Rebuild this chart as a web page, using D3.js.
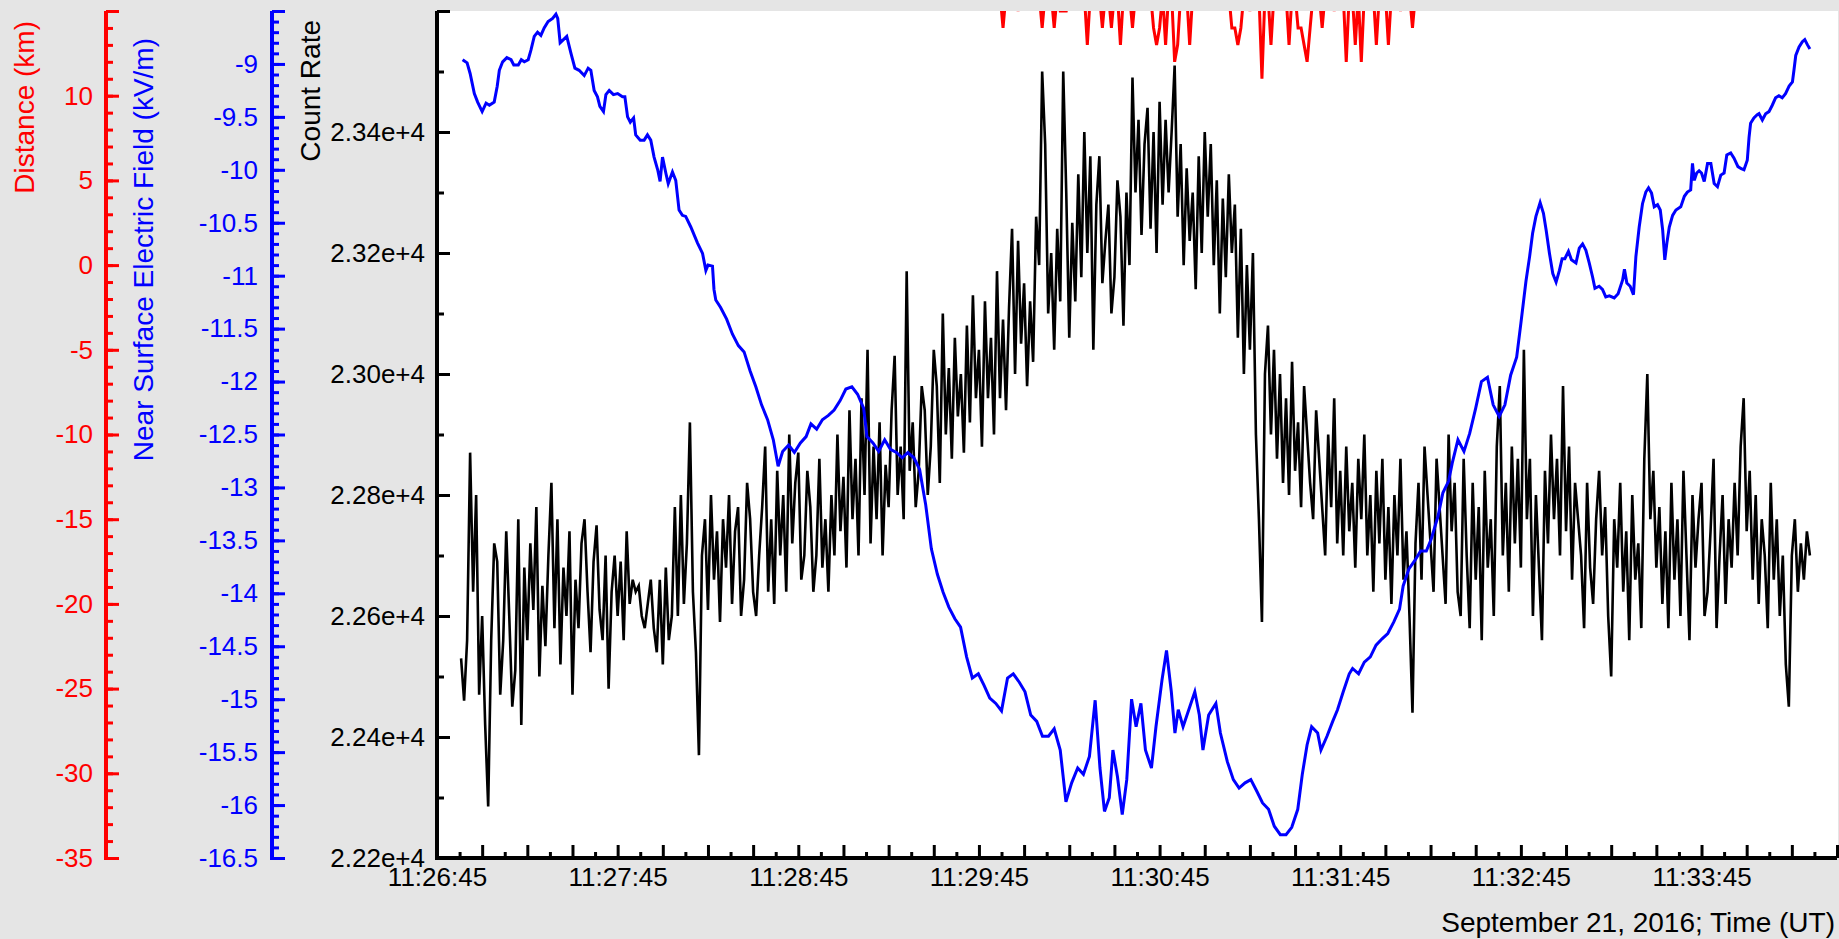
<!DOCTYPE html>
<html>
<head>
<meta charset="utf-8">
<script src="https://cdn.jsdelivr.net/npm/d3@7"></script>
<style>
  html, body { margin: 0; padding: 0; background: #e5e5e5; }
  svg { display: block; font-family: "Liberation Sans", Arial, sans-serif; }
</style>
</head>
<body>
<svg id="chart" width="1839" height="939"></svg>
<script>
// all times are seconds after 11:26:45 UT, September 21, 2016
const startTime = Date.UTC(2016, 8, 21, 11, 26, 45);
const timeSpan = 465;

// count rate, one value per second starting at 11:26:53
const countStartSecond = 8;
const countRate = [
    22530, 22460, 22560, 22870, 22640, 22800, 22470, 22600, 22420, 22285,
    22560, 22720, 22690, 22470, 22560, 22740, 22600, 22450, 22510, 22760,
    22420, 22680, 22560, 22720, 22610, 22780, 22500, 22650, 22550, 22700,
    22820, 22580, 22760, 22520, 22680, 22600, 22740, 22470, 22660, 22580,
    22720, 22760, 22640, 22540, 22690, 22750, 22610, 22560, 22700, 22480,
    22640, 22700, 22600, 22690, 22560, 22740, 22620, 22660, 22640, 22650,
    22600, 22580, 22620, 22660, 22580, 22540, 22660, 22520, 22680, 22560,
    22600, 22780, 22600, 22800, 22620, 22720, 22920, 22640, 22540, 22370,
    22700, 22760, 22610, 22800, 22660, 22740, 22590, 22760, 22680, 22800,
    22620, 22740, 22780, 22600, 22660, 22820, 22760, 22640, 22600, 22700,
    22780, 22880, 22640, 22760, 22620, 22840, 22700, 22800, 22640, 22900,
    22720, 22820, 22870, 22660, 22700, 22840, 22780, 22640, 22700, 22860,
    22680, 22760, 22640, 22800, 22700, 22900, 22740, 22830, 22680, 22940,
    22760, 22860, 22700, 22960, 22800, 23040, 22720, 22880, 22760, 22920,
    22700, 22850, 22780, 22940, 23030, 22800, 22880, 22760, 23170, 22840,
    22920, 22780, 22840, 22980, 22940, 22800, 22880, 23040, 22980, 22820,
    23100, 22900, 23010, 22860, 23060, 22930, 23000, 22870, 23080, 22920,
    23130, 22960, 23040, 22880, 23120, 22960, 23060, 22900, 23170, 22960,
    23090, 22940, 23110, 23240, 23000, 23220, 23050, 23150, 22980, 23120,
    23020, 23260, 23180, 23500, 23380, 23100, 23200, 23040, 23240, 23120,
    23500, 23300, 23060, 23250, 23120, 23330, 23160, 23400, 23200, 23360,
    23040, 23280, 23360, 23150, 23220, 23280, 23100, 23160, 23320, 23260,
    23080, 23300, 23180, 23490, 23300, 23420, 23230, 23380, 23440, 23240,
    23400, 23200, 23450, 23280, 23420, 23300, 23400, 23510, 23260, 23380,
    23180, 23340, 23220, 23300, 23140, 23360, 23200, 23400, 23260, 23380,
    23180, 23320, 23100, 23290, 23160, 23330, 23200, 23280, 23060, 23240,
    23000, 23180, 23040, 23200, 22900, 22760, 22590, 23000, 23080, 22900,
    23040, 22860, 23000, 22820, 22960, 22800, 23020, 22840, 22920, 22780,
    22980, 22900, 22820, 22760, 22940, 22860, 22780, 22700, 22900, 22780,
    22960, 22720, 22840, 22700, 22880, 22740, 22820, 22680, 22860, 22760,
    22900, 22700, 22800, 22640, 22840, 22720, 22860, 22660, 22780, 22620,
    22800, 22700, 22860, 22660, 22740, 22600, 22440, 22720, 22820, 22660,
    22880, 22800, 22720, 22640, 22860, 22780, 22700, 22620, 22900, 22740,
    22820, 22640, 22600, 22860, 22700, 22580, 22820, 22660, 22780, 22560,
    22840, 22680, 22760, 22600, 22880, 22980, 22700, 22820, 22640, 22880,
    22720, 22860, 22680, 23040, 22760, 22860, 22600, 22800, 22680, 22560,
    22840, 22720, 22900, 22760, 22860, 22700, 22980, 22740, 22880, 22660,
    22820, 22760, 22700, 22580, 22820, 22680, 22620, 22760, 22840, 22700,
    22780, 22600, 22500, 22760, 22680, 22820, 22640, 22740, 22560, 22800,
    22660, 22720, 22580, 22860, 23000, 22760, 22840, 22680, 22780, 22620,
    22740, 22580, 22820, 22660, 22760, 22600, 22840, 22700, 22560, 22800,
    22680, 22760, 22820, 22600, 22640, 22740, 22860, 22580, 22700, 22800,
    22620, 22760, 22680, 22820, 22700, 22880, 22960, 22740, 22840, 22660,
    22800, 22620, 22760, 22700, 22580, 22820, 22660, 22760, 22600, 22700,
    22520, 22450, 22700, 22760, 22640, 22720, 22660, 22740, 22700
];

// near surface electric field: [second, kV/m]
const fieldData = [
    [8.5, -8.96], [10, -8.99], [11, -9.09], [12.4, -9.28], [13.5, -9.36], [15, -9.45],
    [16.3, -9.37], [17.4, -9.39], [19, -9.36], [20, -9.21], [20.7, -9.06], [21.8, -8.98],
    [23.2, -8.94], [24.6, -8.96], [25.5, -9.01], [27, -9.01], [28, -8.96], [29, -8.98],
    [30.3, -8.96], [31.2, -8.87], [32.3, -8.74], [33.4, -8.70], [34.5, -8.73], [35.6, -8.66],
    [36.9, -8.60], [38.4, -8.57], [39.5, -8.53], [40.1, -8.57], [40.9, -8.80], [42, -8.77],
    [43.1, -8.74], [44.5, -8.90], [45.8, -9.04], [47.2, -9.06], [48.9, -9.11], [50.2, -9.04],
    [51.1, -9.06], [52.2, -9.25], [53.3, -9.31], [54.1, -9.40], [55.3, -9.45], [56.1, -9.29],
    [57.2, -9.25], [58.6, -9.29], [60, -9.28], [61.6, -9.31], [62.4, -9.31], [63.3, -9.50],
    [64.2, -9.55], [65.3, -9.51], [66, -9.67], [67.5, -9.72], [68.8, -9.72], [69.9, -9.67],
    [71, -9.72], [72.1, -9.88], [73.3, -10.00], [74.1, -10.11], [74.9, -9.88], [76, -10.03],
    [76.8, -10.13], [78.2, -10.02], [79.3, -10.10], [80.4, -10.38], [81.5, -10.43], [82.6, -10.44],
    [84.3, -10.54], [86.5, -10.69], [88.2, -10.79], [89.3, -10.95], [90, -10.90], [91.5, -10.91],
    [92, -11.13], [92.6, -11.23], [94.2, -11.30], [96.2, -11.41], [98.1, -11.55], [100.1, -11.66],
    [102, -11.72], [104, -11.90], [105.9, -12.05], [107.8, -12.22], [109.8, -12.36], [111.7, -12.55],
    [113.3, -12.80], [114.8, -12.66], [116.8, -12.60], [118.7, -12.67], [120.7, -12.58], [122.6, -12.52],
    [124.2, -12.40], [126.1, -12.45], [128, -12.36], [130, -12.32], [131.9, -12.27], [133.9, -12.18],
    [135.8, -12.07], [137.8, -12.05], [139.7, -12.12], [141.7, -12.25], [142.8, -12.52], [144.8, -12.58],
    [146.7, -12.66], [148.7, -12.55], [150.6, -12.64], [152.6, -12.67], [154.5, -12.72], [156.4, -12.67],
    [158.4, -12.72], [160.3, -12.83], [162.3, -13.16], [164.2, -13.58], [166.2, -13.82], [168.1, -13.99],
    [170, -14.13], [172, -14.24], [173.9, -14.32], [175.9, -14.60], [177.8, -14.80], [179.8, -14.76],
    [181.7, -14.87], [183.6, -14.99], [185.6, -15.04], [187.5, -15.11], [189.5, -14.80], [191.4, -14.76],
    [193.4, -14.84], [195.3, -14.93], [197.2, -15.15], [199.2, -15.21], [201.1, -15.35], [203.1, -15.35],
    [205, -15.28], [207, -15.48], [208.9, -15.97], [210.8, -15.79], [212.8, -15.65], [214.7, -15.71],
    [216.7, -15.54], [218.6, -15.01], [220.2, -15.65], [221.7, -16.06], [223.3, -15.93], [224.5, -15.48],
    [226, -15.73], [227.6, -16.09], [229.1, -15.76], [230.7, -15.00], [232.2, -15.26], [233.8, -15.04],
    [235.3, -15.48], [237.3, -15.65], [238.8, -15.26], [240.8, -14.82], [242.3, -14.54], [243.9, -14.93],
    [245.1, -15.32], [246.2, -15.10], [247.8, -15.26], [249.7, -15.10], [251.7, -14.93], [253.2, -15.15],
    [254.4, -15.48], [256.3, -15.15], [258.7, -15.04], [260.2, -15.32], [262.5, -15.59], [264.5, -15.76],
    [266.4, -15.84], [268.4, -15.79], [270.3, -15.76], [272.3, -15.87], [274.2, -15.98], [276.2, -16.04],
    [278.1, -16.20], [280.1, -16.28], [282, -16.28], [283.9, -16.21], [285.9, -16.04], [287.4, -15.71],
    [289, -15.43], [290.5, -15.26], [292.5, -15.32], [293.6, -15.48], [295.6, -15.35], [297.5, -15.21],
    [299.1, -15.10], [301, -14.93], [303, -14.76], [304.1, -14.71], [306.1, -14.76], [308, -14.65],
    [310, -14.60], [311.9, -14.49], [313.9, -14.43], [315.8, -14.38], [317.8, -14.27], [319.7, -14.15],
    [320.9, -13.93], [322.8, -13.77], [324.8, -13.69], [326.7, -13.60], [328.6, -13.60], [330.2, -13.49],
    [332.5, -13.27], [334.1, -13.05], [336, -12.94], [337.2, -12.77], [339.1, -12.55], [341.1, -12.66],
    [343, -12.49], [345, -12.25], [346.9, -12.00], [348.9, -11.96], [350.8, -12.22], [352.8, -12.33],
    [354.7, -12.22], [356.6, -11.94], [358.6, -11.77], [360, -11.45], [361.7, -11.05], [362.9, -10.82],
    [363.9, -10.60], [365, -10.44], [366.4, -10.31], [367.5, -10.41], [368.4, -10.57], [369.5, -10.79],
    [370.6, -10.98], [371.7, -11.06], [372.8, -10.95], [373.7, -10.84], [374.6, -10.84], [375.8, -10.77],
    [376.8, -10.85], [378.3, -10.88], [379.4, -10.74], [380.5, -10.70], [381.6, -10.76], [382.7, -10.88],
    [383.8, -11.01], [384.6, -11.12], [386, -11.10], [387.1, -11.13], [388.2, -11.20], [389.4, -11.19],
    [391, -11.21], [392.3, -11.17], [393.8, -11.04], [394.4, -10.94], [395.2, -11.07], [396.3, -11.10],
    [397.4, -11.18], [398.2, -10.82], [399.3, -10.54], [400.4, -10.32], [401.5, -10.21], [402.4, -10.17],
    [403.4, -10.22], [404.3, -10.35], [405.4, -10.33], [406.3, -10.38], [407.1, -10.57], [407.8, -10.85],
    [408.5, -10.69], [409.3, -10.54], [410.4, -10.43], [411.5, -10.38], [413.1, -10.35], [414.3, -10.25],
    [415.3, -10.21], [416.4, -10.19], [417, -9.94], [417.6, -10.10], [418.4, -10.03], [419.2, -10.01],
    [420, -10.03], [420.9, -10.11], [422, -9.94], [423.1, -9.94], [424.2, -10.13], [425.3, -10.16],
    [426.4, -10.05], [427.5, -10.03], [428.4, -9.86], [429.7, -9.84], [430.8, -9.89], [432.1, -9.97],
    [433.2, -9.99], [434.1, -10.00], [435.2, -9.91], [435.8, -9.69], [436.3, -9.56], [437.4, -9.51],
    [438.5, -9.48], [439.1, -9.47], [440.2, -9.53], [441.3, -9.47], [442.4, -9.45], [443.5, -9.39],
    [444.6, -9.32], [445.7, -9.30], [446.8, -9.32], [447.9, -9.28], [449.1, -9.21], [450.2, -9.17],
    [450.7, -9.06], [451.3, -8.92], [452.4, -8.84], [453.5, -8.79], [454.3, -8.77], [455.2, -8.82],
    [456, -8.86]
];

// lightning distance (km), one value per second from 11:29:51; 16 = beyond the top of the axis
const distanceStartSecond = 186;
const distanceKm = [
    16, 16, 14, 16, 16, 16, 16, 15, 16, 16,
    16, 16, 16, 16, 16, 14, 16, 16, 16, 14,
    16, 15, 15, 15, 16, 16, 16, 16, 16, 16,
    13, 16, 16, 16, 16, 14, 16, 16, 14, 16,
    16, 13, 16, 16, 16, 14, 16, 16, 16, 16,
    16, 16, 14, 13, 14, 16, 13, 16, 16, 12,
    13, 16, 16, 16, 13, 16, 16, 16, 16, 16,
    16, 16, 16, 16, 16, 16, 16, 16, 14, 14,
    13, 14, 16, 16, 15, 16, 16, 16, 11, 16,
    16, 13, 16, 16, 16, 16, 16, 13, 16, 16,
    14, 14, 13, 12, 14, 16, 16, 16, 14, 16,
    16, 16, 15, 16, 16, 16, 12, 16, 16, 13,
    16, 12, 16, 16, 16, 16, 13, 16, 16, 16,
    13, 16, 16, 16, 15, 16, 16, 16, 14, 16,
    16
];

const distanceTickLabels = [-35, -30, -25, -20, -15, -10, -5, 0, 5, 10];
const fieldTickLabels = [-16.5, -16, -15.5, -15, -14.5, -14, -13.5, -13, -12.5, -12, -11.5, -11, -10.5, -10, -9.5, -9];
const countTickLabels = [22200, 22400, 22600, 22800, 23000, 23200, 23400];
const timeTickLabels = ["11:26:45", "11:27:45", "11:28:45", "11:29:45", "11:30:45", "11:31:45", "11:32:45", "11:33:45"];

const W = 1839;
const plotLeft = 437, plotRight = 1837, plotTop = 11, plotBottom = 858;
const fontFamily = '"Liberation Sans", Arial, sans-serif';

const svg = d3.select("#chart");
const toDate = s => new Date(startTime + s * 1000);
const parseTime = d3.utcParse("%Y-%m-%d %H:%M:%S");

const x = d3.scaleUtc()
    .domain([toDate(0), toDate(timeSpan)])
    .range([plotLeft, plotRight]);
const yCount = d3.scaleLinear().domain([22200, 23600]).range([plotBottom, plotTop]);
const yField = d3.scaleLinear().domain([-16.5, -8.5]).range([plotBottom, plotTop]);
const yDist = d3.scaleLinear().domain([-35, 15]).range([plotBottom, plotTop]);

svg.append("rect")
    .attr("x", plotLeft)
    .attr("y", plotTop)
    .attr("width", W - plotLeft - 1)
    .attr("height", plotBottom - plotTop)
    .attr("fill", "#ffffff");

svg.append("clipPath")
    .attr("id", "plot-clip")
    .append("rect")
    .attr("x", plotLeft)
    .attr("y", plotTop)
    .attr("width", W - plotLeft)
    .attr("height", plotBottom - plotTop);

const lines = svg.append("g").attr("clip-path", "url(#plot-clip)");

lines.append("path")
    .datum(countRate)
    .attr("fill", "none")
    .attr("stroke", "#000000")
    .attr("stroke-width", 2.6)
    .attr("d", d3.line()
        .x((d, i) => x(toDate(countStartSecond + i)))
        .y(d => yCount(d)));

lines.append("path")
    .datum(fieldData)
    .attr("fill", "none")
    .attr("stroke", "#0000ff")
    .attr("stroke-width", 3)
    .attr("d", d3.line()
        .x(d => x(toDate(d[0])))
        .y(d => yField(d[1])));

lines.append("path")
    .datum(distanceKm)
    .attr("fill", "none")
    .attr("stroke", "#ff0000")
    .attr("stroke-width", 3)
    .attr("d", d3.line()
        .x((d, i) => x(toDate(distanceStartSecond + i)))
        .y(d => yDist(d)));

// vertical axes: ticks point right, labels sit on the left
function leftAxis(xPos, scale, labels, topTick, minorStep, fmt, color, pad) {
    const g = svg.append("g").attr("transform", `translate(${xPos},0)`);
    const [lo, hi] = scale.domain();
    const minors = d3.range(Math.round((hi - lo) / minorStep) + 1).map(i => lo + i * minorStep);

    g.append("g")
        .call(d3.axisLeft(scale).tickValues(minors).tickSize(-7).tickSizeOuter(0).tickFormat(""));
    g.append("g")
        .call(d3.axisLeft(scale)
            .tickValues(labels.concat([topTick]))
            .tickSize(-13)
            .tickSizeOuter(0)
            .tickPadding(pad)
            .tickFormat(d => labels.includes(d) ? fmt(d) : ""));

    g.selectAll(".domain").remove();
    g.selectAll(".tick line").attr("stroke", color).attr("stroke-width", 3);
    g.selectAll(".tick text")
        .attr("fill", color)
        .style("font-size", "26px")
        .style("font-family", fontFamily);

    g.append("line")
        .attr("x1", 0).attr("x2", 0)
        .attr("y1", plotBottom + 2).attr("y2", plotTop)
        .attr("stroke", color)
        .attr("stroke-width", 4);
    return g;
}

leftAxis(106, yDist, distanceTickLabels, 15, 1, d => String(d), "#ff0000", 13);
leftAxis(272, yField, fieldTickLabels, -8.5, 0.1, d => String(d), "#0000ff", 14);
leftAxis(plotLeft, yCount, countTickLabels, 23600, 100, d => (d / 1e4).toFixed(2) + "e+4", "#000000", 12);

// time axis
const xg = svg.append("g").attr("transform", `translate(0,${plotBottom})`);
const majorTimes = d3.range(0, timeSpan + 1, 15).map(toDate);
const minorTimes = d3.range(7.5, timeSpan, 15).map(toDate);
const labelTimes = timeTickLabels.map(s => parseTime("2016-09-21 " + s));

xg.append("g").call(d3.axisBottom(x).tickValues(minorTimes).tickSize(-6).tickSizeOuter(0).tickFormat(""));
xg.append("g").call(d3.axisBottom(x).tickValues(majorTimes).tickSize(-13).tickSizeOuter(0).tickFormat(""));
xg.append("g").call(d3.axisBottom(x)
    .tickValues(labelTimes)
    .tickSize(0)
    .tickPadding(10)
    .tickFormat(d3.utcFormat("%H:%M:%S")));

xg.selectAll(".domain").remove();
xg.selectAll(".tick line").attr("stroke", "#000").attr("stroke-width", 3);
xg.selectAll(".tick text")
    .attr("fill", "#000")
    .style("font-size", "26px")
    .style("font-family", fontFamily);
xg.append("line")
    .attr("x1", plotLeft - 2).attr("x2", plotRight)
    .attr("y1", 0).attr("y2", 0)
    .attr("stroke", "#000")
    .attr("stroke-width", 4);

// axis titles
const titleStyle = sel => sel
    .attr("text-anchor", "end")
    .style("font-size", "28px")
    .style("font-family", fontFamily);

svg.append("text")
    .attr("transform", "translate(34,21) rotate(-90)")
    .attr("fill", "#ff0000")
    .call(titleStyle)
    .text("Distance (km)");

svg.append("text")
    .attr("transform", "translate(153,38) rotate(-90)")
    .attr("fill", "#0000ff")
    .call(titleStyle)
    .text("Near Surface Electric Field (kV/m)");

svg.append("text")
    .attr("transform", "translate(320,20) rotate(-90)")
    .attr("fill", "#000000")
    .call(titleStyle)
    .text("Count Rate");

svg.append("text")
    .attr("x", 1835)
    .attr("y", 932)
    .attr("fill", "#000000")
    .call(titleStyle)
    .text("September 21, 2016; Time (UT)");
</script>
</body>
</html>
